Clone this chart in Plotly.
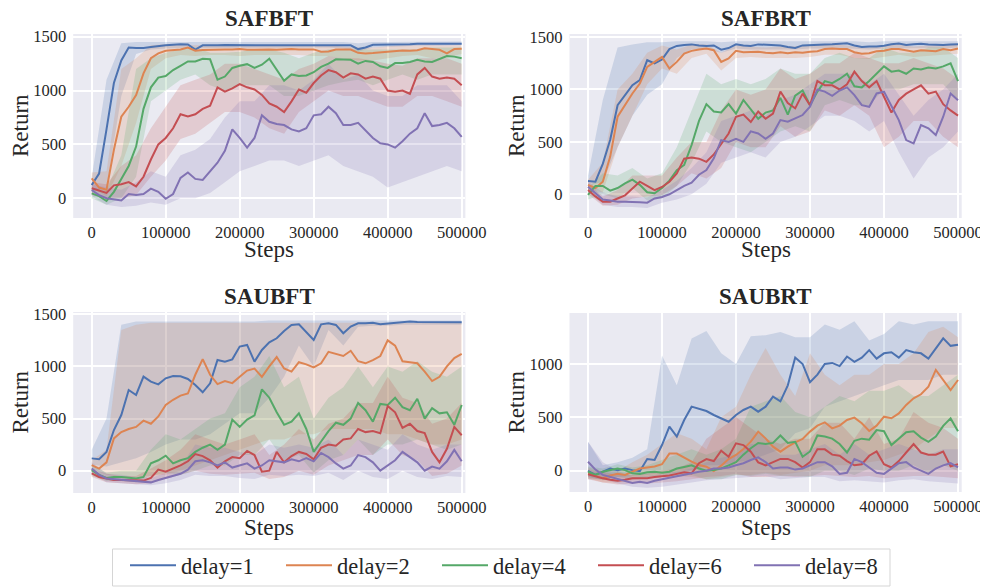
import numpy as np
import plotly.graph_objects as go

# ---------------- data ----------------
steps_line = list(range(0, 500001, 10000))   # 51 points
steps_band = list(range(0, 500001, 20000))   # 26 points
delays = ["delay=1", "delay=2", "delay=4", "delay=6", "delay=8"]
titles = ["SAFBFT", "SAFBRT", "SAUBFT", "SAUBRT"]

# SAFBFT
SAFBFT_d1 = [124, 230, 640, 1070, 1280, 1400, 1395, 1395, 1405, 1415, 1420, 1425, 1430, 1428, 1380, 1420, 1418, 1420, 1422, 1422, 1425, 1420, 1420, 1422, 1425, 1422, 1420, 1422, 1425, 1425, 1425, 1422, 1425, 1425, 1420, 1420, 1385, 1400, 1425, 1425, 1425, 1428, 1430, 1430, 1435, 1435, 1435, 1433, 1433, 1435, 1435]
SAFBFT_d2 = [185, 100, 80, 450, 757, 850, 958, 1160, 1300, 1345, 1370, 1376, 1382, 1400, 1370, 1376, 1380, 1378, 1382, 1380, 1385, 1378, 1380, 1383, 1380, 1378, 1382, 1385, 1380, 1378, 1382, 1360, 1362, 1380, 1382, 1380, 1350, 1345, 1348, 1355, 1360, 1368, 1372, 1370, 1375, 1392, 1382, 1378, 1345, 1385, 1388]
SAFBFT_d4 = [46, 20, -25, 60, 180, 300, 480, 830, 1030, 1120, 1135, 1190, 1230, 1270, 1270, 1295, 1290, 1100, 1130, 1210, 1230, 1245, 1210, 1240, 1295, 1190, 1090, 1150, 1135, 1140, 1170, 1220, 1250, 1290, 1285, 1285, 1250, 1275, 1265, 1225, 1210, 1255, 1255, 1265, 1285, 1270, 1265, 1295, 1320, 1315, 1300]
SAFBFT_d6 = [93, 70, 50, 120, 130, 150, 110, 200, 360, 500, 560, 650, 780, 760, 780, 830, 860, 1030, 990, 1020, 1060, 1030, 1010, 960, 880, 850, 800, 900, 1010, 980, 1070, 1140, 1190, 1170, 1120, 1160, 1150, 1110, 1130, 1110, 1000, 990, 1000, 970, 1150, 1210, 1130, 1110, 1120, 1110, 1050]
SAFBFT_d8 = [77, 30, 0, -10, -20, 40, 30, 40, 90, 60, -5, 40, 190, 240, 180, 170, 250, 330, 440, 640, 560, 470, 560, 770, 710, 690, 680, 640, 620, 650, 770, 780, 850, 790, 680, 680, 700, 630, 560, 510, 500, 470, 530, 600, 650, 790, 670, 680, 700, 650, 570]
SAFBFT_d1_lo = [60, 100, 950, 1340, 1380, 1390, 1395, 1390, 1395, 1400, 1395, 1400, 1400, 1400, 1395, 1400, 1400, 1390, 1360, 1400, 1405, 1410, 1415, 1415, 1415, 1420]
SAFBFT_d1_hi = [190, 1100, 1440, 1450, 1450, 1450, 1450, 1450, 1450, 1450, 1450, 1450, 1450, 1450, 1450, 1450, 1450, 1450, 1440, 1450, 1450, 1450, 1450, 1455, 1455, 1455]
SAFBFT_d2_lo = [100, 20, 300, 700, 1200, 1300, 1330, 1320, 1330, 1330, 1320, 1330, 1330, 1330, 1330, 1320, 1320, 1300, 1280, 1280, 1300, 1320, 1330, 1300, 1310, 1340]
SAFBFT_d2_hi = [240, 250, 1200, 1300, 1420, 1430, 1420, 1420, 1420, 1420, 1420, 1420, 1420, 1420, 1420, 1420, 1420, 1410, 1400, 1400, 1410, 1420, 1420, 1420, 1420, 1420]
SAFBFT_d4_lo = [0, -60, 0, 200, 900, 1000, 1100, 1150, 1050, 1000, 1050, 1050, 1050, 950, 950, 1000, 1050, 1080, 1100, 1050, 1100, 1150, 1100, 1150, 1150, 1150]
SAFBFT_d4_hi = [100, 80, 400, 1200, 1300, 1350, 1380, 1400, 1350, 1350, 1360, 1380, 1380, 1350, 1300, 1350, 1380, 1380, 1380, 1380, 1380, 1380, 1380, 1400, 1400, 1400]
SAFBFT_d6_lo = [30, 0, 0, 30, 200, 350, 550, 600, 700, 800, 800, 750, 650, 600, 800, 900, 1000, 950, 950, 900, 850, 850, 950, 950, 900, 850]
SAFBFT_d6_hi = [150, 130, 300, 400, 650, 850, 1050, 1100, 1150, 1250, 1250, 1200, 1150, 1100, 1200, 1250, 1320, 1300, 1300, 1280, 1250, 1230, 1300, 1300, 1300, 1250]
SAFBFT_d8_lo = [20, -60, -80, -70, -40, -60, 0, 0, 50, 150, 250, 300, 350, 350, 300, 350, 400, 300, 250, 200, 100, 150, 200, 250, 300, 250]
SAFBFT_d8_hi = [130, 100, 80, 150, 250, 200, 400, 450, 550, 750, 900, 900, 1050, 1050, 1000, 1100, 1250, 1100, 1150, 1000, 950, 950, 1050, 1050, 1050, 900]

# SAFBRT
SAFBRT_d1 = [127, 120, 290, 520, 850, 946, 1041, 1089, 1279, 1248, 1285, 1385, 1415, 1425, 1430, 1420, 1415, 1420, 1380, 1395, 1430, 1420, 1415, 1430, 1425, 1420, 1420, 1405, 1395, 1420, 1425, 1430, 1430, 1432, 1435, 1440, 1420, 1405, 1410, 1410, 1418, 1432, 1438, 1425, 1432, 1436, 1430, 1425, 1425, 1430, 1432]
SAFBRT_d2 = [89, 60, 120, 360, 740, 850, 962, 1057, 1216, 1263, 1311, 1200, 1263, 1343, 1368, 1381, 1390, 1375, 1263, 1295, 1368, 1355, 1360, 1360, 1350, 1345, 1355, 1345, 1355, 1350, 1360, 1365, 1385, 1390, 1385, 1385, 1355, 1340, 1345, 1365, 1370, 1385, 1385, 1370, 1360, 1375, 1370, 1365, 1385, 1375, 1390]
SAFBRT_d4 = [-6, 80, 80, 35, 60, 105, 140, 90, 20, 10, 60, 130, 230, 280, 470, 700, 860, 790, 780, 860, 770, 900, 810, 720, 780, 800, 920, 760, 940, 990, 850, 980, 1080, 1060, 1100, 1150, 1030, 1020, 1080, 1150, 1220, 1170, 1180, 1150, 1200, 1190, 1210, 1200, 1220, 1250, 1080]
SAFBRT_d6 = [41, -20, -70, -70, -40, -10, 55, 120, 80, 40, 70, 120, 200, 340, 350, 340, 310, 380, 480, 580, 740, 760, 690, 790, 720, 770, 980, 870, 820, 960, 850, 1080, 1040, 1040, 1000, 1050, 1170, 1080, 1020, 1080, 930, 780, 900, 960, 1000, 1040, 960, 980, 860, 800, 750]
SAFBRT_d8 = [73, 10, -50, -60, -70, -70, -70, -75, -80, -40, -25, 0, 40, 80, 110, 187, 232, 343, 517, 500, 530, 500, 600, 580, 530, 580, 708, 692, 724, 756, 835, 1000, 980, 940, 990, 1020, 946, 850, 835, 962, 978, 835, 708, 517, 486, 660, 629, 565, 740, 962, 898]
SAFBRT_d1_lo = [80, 120, 450, 750, 950, 1050, 1300, 1380, 1380, 1350, 1390, 1380, 1380, 1380, 1380, 1390, 1390, 1395, 1390, 1380, 1390, 1395, 1395, 1395, 1390, 1400]
SAFBRT_d1_hi = [180, 900, 1400, 1430, 1450, 1450, 1460, 1460, 1460, 1450, 1460, 1460, 1460, 1460, 1460, 1460, 1460, 1460, 1460, 1450, 1460, 1460, 1460, 1460, 1460, 1460]
SAFBRT_d2_lo = [40, 20, 450, 750, 1050, 1200, 1150, 1300, 1340, 1180, 1300, 1310, 1300, 1300, 1300, 1310, 1330, 1330, 1300, 1290, 1310, 1330, 1310, 1320, 1330, 1340]
SAFBRT_d2_hi = [140, 300, 1000, 1150, 1350, 1420, 1380, 1430, 1430, 1350, 1420, 1410, 1400, 1410, 1410, 1420, 1430, 1430, 1410, 1400, 1420, 1430, 1410, 1420, 1430, 1430]
SAFBRT_d4_lo = [-50, 0, -40, 60, -60, -40, 80, 300, 600, 500, 450, 400, 500, 600, 650, 600, 850, 900, 850, 850, 1000, 1000, 1050, 1050, 1050, 900]
SAFBRT_d4_hi = [60, 200, 180, 250, 150, 200, 450, 800, 1150, 1050, 1100, 1050, 1100, 1200, 1150, 1150, 1300, 1350, 1300, 1300, 1400, 1350, 1350, 1400, 1400, 1300]
SAFBRT_d6_lo = [0, -110, -100, -40, -20, -10, 80, 200, 150, 250, 500, 450, 450, 650, 550, 600, 800, 750, 850, 750, 450, 550, 700, 700, 550, 450]
SAFBRT_d6_hi = [100, -20, 40, 180, 180, 180, 350, 500, 500, 800, 1000, 950, 1000, 1200, 1100, 1150, 1250, 1250, 1350, 1300, 1250, 1250, 1300, 1250, 1200, 1100]
SAFBRT_d8_lo = [20, -100, -120, -120, -130, -80, -50, 0, 100, 300, 350, 400, 350, 500, 550, 650, 750, 750, 700, 600, 700, 400, 150, 350, 450, 600]
SAFBRT_d8_hi = [120, 20, -20, -20, -30, 40, 130, 250, 400, 700, 750, 800, 750, 900, 950, 1050, 1150, 1150, 1150, 1050, 1150, 950, 750, 900, 1000, 1150]

# SAUBFT
SAUBFT_d1 = [118, 110, 180, 390, 534, 774, 726, 902, 854, 828, 886, 908, 905, 880, 822, 752, 838, 1062, 1046, 1068, 1190, 1206, 1046, 1158, 1231, 1270, 1340, 1398, 1404, 1334, 1254, 1404, 1414, 1398, 1318, 1382, 1414, 1415, 1418, 1405, 1412, 1420, 1425, 1430, 1425, 1425, 1428, 1425, 1425, 1425, 1423]
SAUBFT_d2 = [54, 20, 80, 310, 370, 400, 420, 480, 450, 520, 630, 680, 720, 740, 920, 1070, 920, 830, 860, 840, 900, 960, 980, 900, 1000, 1090, 980, 950, 1040, 1020, 990, 1030, 1140, 1120, 1100, 1150, 1050, 1030, 1060, 1100, 1250, 1200, 1050, 1040, 1030, 950, 860, 900, 1000, 1080, 1120]
SAUBFT_d4 = [6, -40, -70, -60, -60, -70, -74, -60, 70, 100, 144, 70, 100, 120, 180, 220, 250, 200, 250, 490, 420, 490, 530, 780, 700, 560, 440, 470, 550, 400, 180, 280, 380, 460, 440, 500, 650, 580, 470, 640, 630, 700, 610, 580, 690, 500, 600, 550, 560, 440, 630]
SAUBFT_d6 = [-26, -60, -75, -90, -90, -90, -95, -95, -70, 10, -10, 20, 50, 90, 160, 140, 100, 30, 90, 130, 120, 190, 150, -10, 0, 180, 80, 140, 180, 160, 110, 220, 250, 240, 300, 310, 400, 370, 380, 360, 620, 560, 410, 450, 380, 360, 180, 80, 210, 420, 340]
SAUBFT_d8 = [22, -40, -75, -80, -85, -90, -100, -105, -112, -90, -70, -50, -30, 10, 90, 100, 80, 50, 80, 30, 50, 70, 20, 50, 100, 90, 80, 110, 90, 120, 90, 170, 130, 70, 20, 50, 150, 130, 80, 0, 50, 100, 180, 130, 80, 0, 40, 20, 90, 200, 90]
SAUBFT_d1_lo = [60, 40, 80, 120, 180, 250, 300, 300, 350, 450, 550, 550, 700, 900, 1200, 1000, 1350, 1200, 1380, 1390, 1390, 1400, 1400, 1400, 1400, 1400]
SAUBFT_d1_hi = [200, 500, 1400, 1430, 1430, 1430, 1430, 1430, 1430, 1430, 1430, 1430, 1440, 1440, 1440, 1440, 1440, 1440, 1440, 1440, 1440, 1440, 1440, 1440, 1440, 1440]
SAUBFT_d2_lo = [20, -40, -60, -60, -50, -40, 0, 50, 100, 150, 200, 250, 300, 300, 350, 350, 400, 400, 400, 400, 350, 350, 300, 250, 250, 300]
SAUBFT_d2_hi = [100, 200, 1350, 1400, 1420, 1420, 1420, 1420, 1420, 1420, 1420, 1420, 1420, 1420, 1420, 1420, 1420, 1420, 1420, 1420, 1420, 1420, 1420, 1420, 1420, 1420]
SAUBFT_d4_lo = [-50, -100, -100, -110, -50, -20, -40, 0, 50, 50, 150, 150, 300, 100, 150, -20, 100, 150, 300, 150, 250, 250, 300, 250, 200, 250]
SAUBFT_d4_hi = [60, -20, 0, 0, 200, 350, 300, 400, 500, 550, 800, 900, 1100, 800, 900, 500, 700, 800, 1000, 800, 1000, 950, 1050, 950, 900, 1000]
SAUBFT_d6_lo = [-60, -110, -120, -130, -120, -80, -40, 0, -30, -40, -30, -20, -80, -60, 0, -40, 50, 100, 150, 150, 300, 150, 100, -50, -30, 50]
SAUBFT_d6_hi = [20, -30, -50, -50, 20, 100, 200, 350, 300, 250, 300, 350, 150, 250, 400, 300, 450, 500, 650, 650, 900, 700, 650, 450, 500, 650]
SAUBFT_d8_lo = [-30, -110, -120, -130, -140, -120, -90, -40, -50, -50, -70, -80, -40, -50, -40, -50, -20, -90, 0, -60, -80, 0, -60, -80, -50, -60]
SAUBFT_d8_hi = [80, -30, -40, -60, -70, -20, 40, 250, 220, 220, 180, 150, 250, 220, 250, 220, 300, 150, 300, 250, 200, 350, 250, 200, 250, 250]

# SAUBRT
SAUBRT_d1 = [-3, -40, -10, 20, 5, 20, 5, -5, 109, 100, 240, 412, 319, 475, 600, 578, 559, 522, 490, 459, 522, 569, 600, 553, 600, 694, 650, 800, 1060, 1000, 830, 900, 1000, 1010, 980, 1070, 1020, 1060, 1130, 1050, 1100, 1110, 1060, 1130, 1110, 1100, 1050, 1140, 1240, 1170, 1180]
SAUBRT_d2 = [-25, -50, -70, -45, -30, -40, -10, 20, 30, 40, 60, 160, 160, 120, 84, 53, 37, -3, 47, 109, 147, 203, 272, 366, 303, 225, 178, 225, 266, 297, 366, 422, 453, 397, 422, 475, 497, 444, 372, 422, 506, 491, 537, 616, 678, 716, 787, 944, 850, 756, 850]
SAUBRT_d4 = [-10, -40, -10, 5, 20, 5, -25, -30, -15, -10, -20, -10, 20, 35, 50, 20, 0, 5, 20, 50, 80, 150, 210, 260, 250, 260, 330, 260, 270, 130, 180, 330, 320, 300, 250, 170, 280, 300, 290, 380, 370, 240, 300, 360, 370, 310, 270, 320, 420, 490, 370]
SAUBRT_d6 = [-34, -55, -72, -85, -95, -85, -72, -72, -70, -60, -55, -45, -30, -15, -25, 70, 109, 90, 187, 131, 256, 240, 178, 78, 50, 80, 110, 110, 80, 30, 80, 200, 200, 150, 140, 90, 50, 60, 140, 180, 60, 30, 90, 170, 250, 170, 150, 150, 180, 40, 60]
SAUBRT_d8 = [84, 10, -40, -60, -80, -100, -115, -105, -115, -95, -80, -70, -55, -40, -25, -10, 0, 20, 20, 30, 50, 70, 100, 125, 80, 20, 30, 30, 10, 20, 50, 80, 80, 40, -30, -20, 110, 80, 30, -20, -30, 20, 70, 80, 30, 0, -30, 20, 50, 70, 30]
SAUBRT_d1_lo = [-80, -80, -60, -50, -40, -20, -20, 0, 50, 50, 80, 100, 150, 200, 350, 400, 600, 650, 700, 750, 800, 850, 850, 850, 900, 900]
SAUBRT_d1_hi = [270, 50, 80, 120, 200, 1080, 800, 1240, 1310, 1100, 1000, 1260, 1270, 1300, 1250, 1250, 1370, 1320, 1400, 1220, 1280, 1400, 1370, 1400, 1400, 1400]
SAUBRT_d2_lo = [-70, -110, -110, -90, -70, -60, -50, -60, -80, -60, -40, -40, -20, -40, -20, 0, 50, 50, 50, 80, 100, 150, 200, 300, 400, 400]
SAUBRT_d2_hi = [30, 0, 0, 80, 150, 250, 350, 300, 200, 500, 600, 900, 1150, 900, 700, 1100, 900, 800, 900, 900, 1000, 1000, 1100, 1300, 1350, 1250]
SAUBRT_d4_lo = [-60, -90, -60, -80, -60, -50, -60, -40, -80, -80, -40, -50, -30, -50, -50, -60, 0, 0, -40, 20, 0, 0, 50, -20, 50, 0]
SAUBRT_d4_hi = [40, 20, 60, 30, 50, 100, 150, 200, 150, 200, 300, 600, 650, 700, 550, 500, 600, 700, 650, 750, 750, 800, 700, 700, 800, 900]
SAUBRT_d6_lo = [-80, -110, -130, -120, -120, -110, -100, -80, -60, -50, -30, -60, -60, -50, -60, -50, -40, -50, -60, -50, -70, -60, -50, -50, -60, -70]
SAUBRT_d6_hi = [10, -10, -40, -40, -30, 0, 20, 80, 300, 400, 500, 400, 300, 250, 300, 300, 450, 450, 300, 500, 250, 300, 550, 450, 400, 300]
SAUBRT_d8_lo = [-60, -80, -120, -150, -160, -150, -130, -110, -90, -80, -70, -60, -50, -80, -70, -60, -60, -100, -90, -100, -110, -90, -80, -100, -110, -120]
SAUBRT_d8_hi = [270, 80, 0, -60, -50, -30, -10, 20, 80, 120, 150, 250, 250, 150, 150, 200, 250, 150, 250, 150, 200, 250, 200, 150, 200, 200]

x_ticks = [0, 100000, 200000, 300000, 400000, 500000]
x_ticklabels = ["0", "100000", "200000", "300000", "400000", "500000"]

# ---------------- styling ----------------
colors = ["#4c72b0", "#dd8452", "#55a868", "#c44e52", "#8172b3"]
band_colors = ["rgba(76,114,176,0.2)", "rgba(221,132,82,0.2)", "rgba(85,168,104,0.2)",
               "rgba(196,78,82,0.2)", "rgba(129,114,179,0.2)"]
FONT = "Liberation Serif"
TXT = "#262626"
# the page body keeps the browser's default 8px margin, so the figure is drawn
# 8px in from the top-left corner of the 988x587 window
OFF = 8
W, H = 988 - OFF, 587 - OFF


def px(x):
    return (x - OFF) / W


def py(y):
    return 1 - (y - OFF) / H


panels = {
    "SAFBFT": ([SAFBFT_d1, SAFBFT_d2, SAFBFT_d4, SAFBFT_d6, SAFBFT_d8],
               [SAFBFT_d1_lo, SAFBFT_d2_lo, SAFBFT_d4_lo, SAFBFT_d6_lo, SAFBFT_d8_lo],
               [SAFBFT_d1_hi, SAFBFT_d2_hi, SAFBFT_d4_hi, SAFBFT_d6_hi, SAFBFT_d8_hi]),
    "SAFBRT": ([SAFBRT_d1, SAFBRT_d2, SAFBRT_d4, SAFBRT_d6, SAFBRT_d8],
               [SAFBRT_d1_lo, SAFBRT_d2_lo, SAFBRT_d4_lo, SAFBRT_d6_lo, SAFBRT_d8_lo],
               [SAFBRT_d1_hi, SAFBRT_d2_hi, SAFBRT_d4_hi, SAFBRT_d6_hi, SAFBRT_d8_hi]),
    "SAUBFT": ([SAUBFT_d1, SAUBFT_d2, SAUBFT_d4, SAUBFT_d6, SAUBFT_d8],
               [SAUBFT_d1_lo, SAUBFT_d2_lo, SAUBFT_d4_lo, SAUBFT_d6_lo, SAUBFT_d8_lo],
               [SAUBFT_d1_hi, SAUBFT_d2_hi, SAUBFT_d4_hi, SAUBFT_d6_hi, SAUBFT_d8_hi]),
    "SAUBRT": ([SAUBRT_d1, SAUBRT_d2, SAUBRT_d4, SAUBRT_d6, SAUBRT_d8],
               [SAUBRT_d1_lo, SAUBRT_d2_lo, SAUBRT_d4_lo, SAUBRT_d6_lo, SAUBRT_d8_lo],
               [SAUBRT_d1_hi, SAUBRT_d2_hi, SAUBRT_d4_hi, SAUBRT_d6_hi, SAUBRT_d8_hi]),
}

# pixel boxes (window coordinates) of the four axes (left, right, top, bottom) and y ranges
boxes = [(73.2, 465.4, 34, 218), (569.5, 961.7, 34, 218),
         (73.2, 465.4, 312, 493), (569.5, 961.7, 313, 492)]
y_ranges = [[-183, 1525], [-226, 1529], [-214, 1522], [-200, 1478]]
y_tickvals = [[0, 500, 1000, 1500], [0, 500, 1000, 1500], [0, 500, 1000, 1500], [0, 500, 1000]]
x_range = [-25000, 505000]

fig = go.Figure()

for p, name in enumerate(titles):
    means, los, his = panels[name]
    ax = "" if p == 0 else str(p + 1)
    xref, yref = "x" + ax, "y" + ax
    # bands first (below all lines)
    for i in range(5):
        fig.add_trace(go.Scatter(
            x=steps_band + steps_band[::-1], y=his[i] + los[i][::-1],
            fill="toself", fillcolor=band_colors[i], line=dict(width=0),
            mode="lines", hoverinfo="skip", showlegend=False,
            xaxis=xref, yaxis=yref))
    for i in range(5):
        fig.add_trace(go.Scatter(
            x=steps_line, y=means[i], mode="lines",
            line=dict(color=colors[i], width=2),
            name=delays[i], legendgroup=delays[i], showlegend=(p == 0),
            xaxis=xref, yaxis=yref))

    l, r, t, b = boxes[p]
    axis_common = dict(showgrid=True, gridcolor="white", gridwidth=1.5, zeroline=False,
                       showline=False, ticks="", automargin=False,
                       tickfont=dict(family=FONT, size=16.5, color=TXT))
    fig.update_layout(**{
        "xaxis" + ax: dict(domain=[px(l), px(r)], range=x_range, anchor=yref,
                           tickvals=x_ticks, ticktext=x_ticklabels, ticklabelstandoff=2,
                           **axis_common),
        "yaxis" + ax: dict(domain=[py(b), py(t)], range=y_ranges[p], anchor=xref,
                           tickvals=y_tickvals[p], ticklabelstandoff=6, **axis_common),
    })
    cx = (l + r) / 2
    title_y = 18 if p < 2 else 296
    steps_y = 249 if p < 2 else 527
    ret_x = 20 if p % 2 == 0 else 516
    fig.add_annotation(text="<b>%s</b>" % name, x=px(cx), y=py(title_y), xref="paper", yref="paper",
                       showarrow=False, xanchor="center", yanchor="middle",
                       font=dict(family=FONT, size=23, color=TXT))
    fig.add_annotation(text="Steps", x=px(cx), y=py(steps_y), xref="paper", yref="paper",
                       showarrow=False, xanchor="center", yanchor="middle",
                       font=dict(family=FONT, size=23, color=TXT))
    fig.add_annotation(text="Return", x=px(ret_x), y=py((t + b) / 2), xref="paper", yref="paper",
                       showarrow=False, xanchor="center", yanchor="middle", textangle=-90,
                       font=dict(family=FONT, size=23, color=TXT))

# legend frame
fig.add_shape(type="rect", xref="paper", yref="paper",
              x0=px(112.5), x1=px(890), y0=py(586), y1=py(549),
              line=dict(color="#d5d5d5", width=1), fillcolor="white", layer="below")

fig.update_layout(
    template="none",
    width=W, height=H,
    margin=dict(l=0, r=0, t=0, b=0, autoexpand=False),
    paper_bgcolor="white", plot_bgcolor="#eaeaf2",
    font=dict(family=FONT, color=TXT),
    showlegend=True,
    legend=dict(orientation="h", x=px(125), y=py(565.5), xanchor="left", yanchor="middle",
                bgcolor="rgba(0,0,0,0)", borderwidth=0,
                font=dict(family=FONT, size=22.5, color=TXT),
                entrywidth=95, entrywidthmode="pixels", itemwidth=46),
    hovermode=False,
)

fig.write_html("out.html")
